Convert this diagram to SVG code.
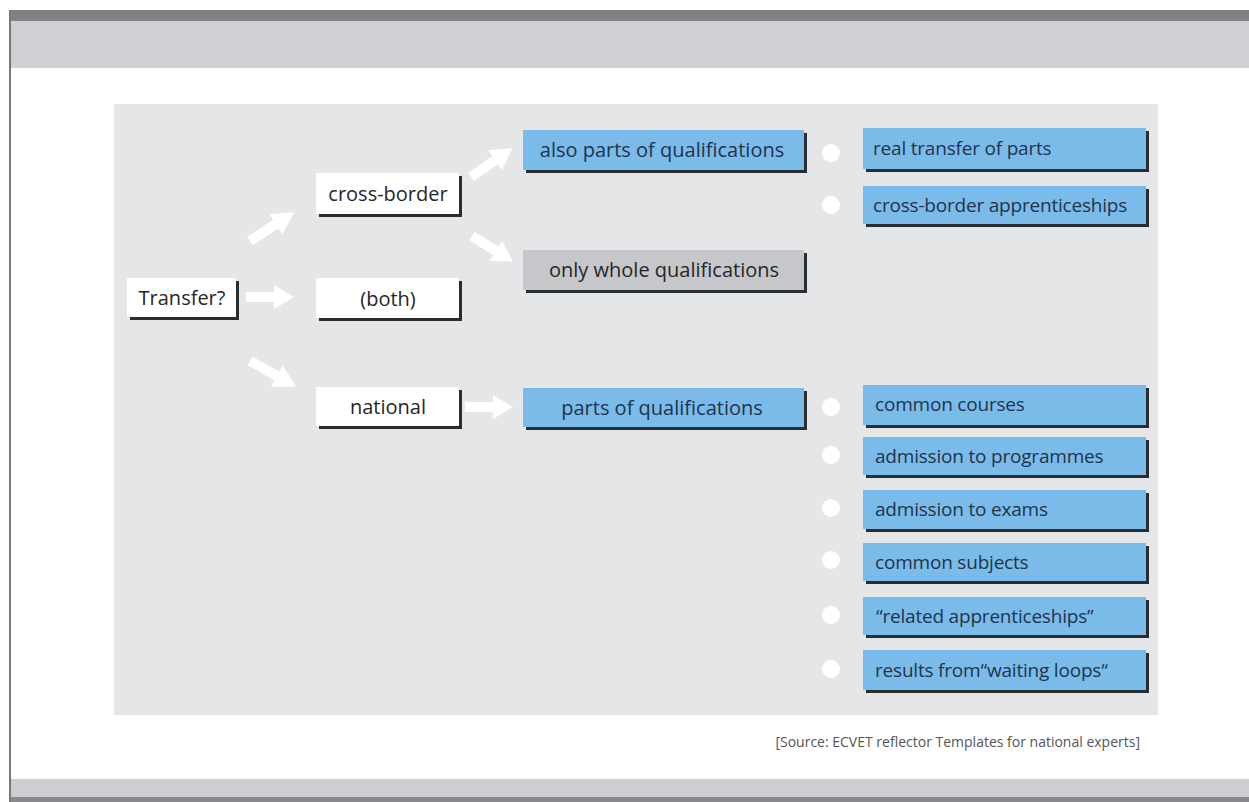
<svg xmlns="http://www.w3.org/2000/svg" width="1249" height="802" viewBox="0 0 1249 802">
<defs>
<style>
.sh{fill:#2a2d30}
.wb{fill:#ffffff}
.bb{fill:#7bbbea}
.gb{fill:#c6c7cb}
.t{font-family:"Open Sans","Liberation Sans",sans-serif;font-size:20px;fill:#262628}
.tb{font-family:"Open Sans","Liberation Sans",sans-serif;font-size:20px;fill:#1f344b}
.r{font-size:19px;letter-spacing:-0.2px}
.c{text-anchor:middle}
.dot{fill:#ffffff}
.arr{fill:#ffffff}
</style>
<path id="ar" d="M0,-5 L28,-5 L28,-12 L48,0 L28,12 L28,5 L0,5 Z"/>
</defs>
<rect x="0" y="0" width="1249" height="802" fill="#ffffff"/>
<rect x="10" y="10" width="1239" height="11" fill="#808085"/>
<rect x="10" y="21" width="1239" height="47" fill="#cfd0d4"/>
<rect x="10" y="779" width="1239" height="19" fill="#cdced2"/>
<rect x="10" y="797" width="1239" height="5" fill="#8a8a8e"/>
<rect x="9" y="10" width="2" height="792" fill="#78787c"/>
<rect x="114" y="104" width="1044" height="611" fill="#e4e6e8"/>
<text x="1140" y="747" font-family="'Open Sans','Liberation Sans',sans-serif" font-size="14" fill="#555" text-anchor="end">[Source: ECVET reflector Templates for national experts]</text>

<g id="connectors">
<use href="#ar" class="arr" transform="translate(246,297)"/>
<use href="#ar" class="arr" transform="translate(250,241) rotate(-33) scale(1.1,1)"/>
<use href="#ar" class="arr" transform="translate(250,361) rotate(29) scale(1.1,1)"/>
<use href="#ar" class="arr" transform="translate(465,407)"/>
<use href="#ar" class="arr" transform="translate(471,177) rotate(-35) scale(1.05,1)"/>
<use href="#ar" class="arr" transform="translate(472,236) rotate(32)"/>
</g>

<g id="n-transfer"><rect class="sh" x="130" y="281" width="109" height="39"/><rect class="wb" x="127" y="278" width="109" height="39"/><text class="t c" x="182" y="305">Transfer?</text></g>
<g id="n-cross-border"><rect class="sh" x="319" y="176" width="143" height="41"/><rect class="wb" x="316" y="173" width="143" height="41"/><text class="t c" x="388" y="201">cross-border</text></g>
<g id="n-both"><rect class="sh" x="319" y="281" width="143" height="40"/><rect class="wb" x="316" y="278" width="143" height="40"/><text class="t c" x="388" y="306">(both)</text></g>
<g id="n-national"><rect class="sh" x="319" y="390" width="143" height="39"/><rect class="wb" x="316" y="387" width="143" height="39"/><text class="t c" x="388" y="414">national</text></g>

<g id="n-also-parts"><rect class="sh" x="526" y="133" width="281" height="40"/><rect class="bb" x="523" y="130" width="281" height="40"/><text class="tb c" x="662" y="157">also parts of qualifications</text></g>
<g id="n-only-whole"><rect class="sh" x="526" y="253" width="281" height="40"/><rect class="gb" x="523" y="250" width="281" height="40"/><text class="t c" x="664" y="277">only whole qualifications</text></g>
<g id="n-parts"><rect class="sh" x="526" y="391" width="281" height="39"/><rect class="bb" x="523" y="388" width="281" height="39"/><text class="tb c" x="662" y="415">parts of qualifications</text></g>

<g id="n-real-transfer"><circle class="dot" cx="831" cy="153" r="9"/><rect class="sh" x="866" y="131" width="283" height="41"/><rect class="bb" x="863" y="128" width="283" height="41"/><text class="tb r" x="873" y="155">real transfer of parts</text></g>
<g id="n-cb-appr"><circle class="dot" cx="831" cy="205" r="9"/><rect class="sh" x="866" y="189" width="283" height="38"/><rect class="bb" x="863" y="186" width="283" height="38"/><text class="tb r" x="873" y="212">cross-border apprenticeships</text></g>

<g id="n-common-courses"><circle class="dot" cx="831" cy="407" r="9"/><rect class="sh" x="866" y="388" width="283" height="40"/><rect class="bb" x="863" y="385" width="283" height="40"/><text class="tb r" x="875" y="411">common courses</text></g>
<g id="n-adm-prog"><circle class="dot" cx="831" cy="455" r="9"/><rect class="sh" x="866" y="440" width="283" height="38"/><rect class="bb" x="863" y="437" width="283" height="38"/><text class="tb r" x="875" y="463">admission to programmes</text></g>
<g id="n-adm-exams"><circle class="dot" cx="831" cy="508" r="9"/><rect class="sh" x="866" y="493" width="283" height="39"/><rect class="bb" x="863" y="490" width="283" height="39"/><text class="tb r" x="875" y="516">admission to exams</text></g>
<g id="n-common-subjects"><circle class="dot" cx="831" cy="560" r="9"/><rect class="sh" x="866" y="546" width="283" height="38"/><rect class="bb" x="863" y="543" width="283" height="38"/><text class="tb r" x="875" y="569">common subjects</text></g>
<g id="n-related"><circle class="dot" cx="831" cy="615" r="9"/><rect class="sh" x="866" y="600" width="283" height="38"/><rect class="bb" x="863" y="597" width="283" height="38"/><text class="tb r" x="876" y="623">“related apprenticeships”</text></g>
<g id="n-results"><circle class="dot" cx="831" cy="669" r="9"/><rect class="sh" x="866" y="653" width="283" height="40"/><rect class="bb" x="863" y="650" width="283" height="40"/><text class="tb r" x="875" y="677">results from“waiting loops“</text></g>
</svg>
